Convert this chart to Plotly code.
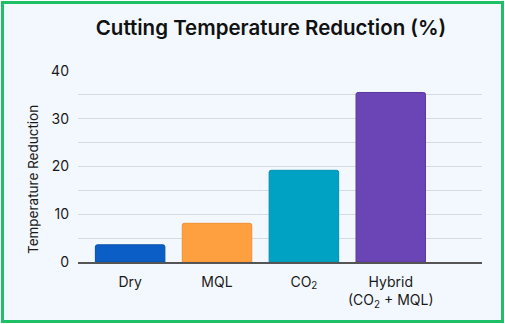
import plotly.graph_objects as go

categories = ["Dry", "MQL", "CO<sub>2</sub>", "Hybrid<br>(CO<sub>2</sub> + MQL)"]
values = [3.6, 8.1, 19.2, 35.5]
colors = ["#0A5EC6", "#FFA040", "#00A2C4", "#6B45B6"]
line_colors = ["#0A4FA8", "#F09030", "#0090B0", "#5A38A0"]
y_ticks = [0, 10, 20, 30, 40]

W, H = 505, 324
L, R, T, B = 78, 23, 71, 62
pw, ph = W - L - R, H - T - B

def px_x(x):
    return (x - L) / pw

def px_y(y):
    return (H - B - y) / ph

fig = go.Figure()
fig.add_trace(go.Bar(
    x=list(range(len(categories))), y=values,
    marker=dict(color=colors, line=dict(color=line_colors, width=1), cornerradius=2),
    width=0.8, hoverinfo="skip",
))

fig.add_shape(type="rect", xref="paper", yref="paper",
              x0=px_x(2.5), x1=px_x(502.5), y0=px_y(321.5), y1=px_y(2.5),
              fillcolor="#F2F8FD", line=dict(color="#1DBF67", width=3), layer="below")

fig.update_layout(
    width=W, height=H,
    margin=dict(l=L, r=R, t=T, b=B, pad=0),
    paper_bgcolor="white", plot_bgcolor="rgba(0,0,0,0)",
    showlegend=False,
    font=dict(family="Inter, Roboto, sans-serif", color="#1a1a1a"),
    title=dict(text="Cutting Temperature Reduction (%)", x=px_x(271), xref="paper",
               xanchor="center", y=1 - 28 / H, yanchor="middle",
               font=dict(size=20.5, color="#111111", family="Inter, Roboto, sans-serif", weight=600)),
    bargap=0.2,
)
fig.update_xaxes(
    range=[-0.6, 4.05], tickmode="array", tickvals=list(range(len(categories))),
    ticktext=categories, showgrid=False, zeroline=False,
    showline=True, linecolor="#555555", linewidth=1.5,
    tickfont=dict(size=14, color="#1a1a1a"), ticks="", ticklabelstandoff=6,
)
fig.update_yaxes(
    range=[0, 40], tickvals=y_ticks, showgrid=True, gridcolor="#D3DBE3", gridwidth=1,
    minor=dict(dtick=5, showgrid=True, gridcolor="#D3DBE3", gridwidth=1),
    zeroline=False, showline=False, ticks="",
    tickfont=dict(size=14, color="#1a1a1a"), ticklabelstandoff=8,
)
fig.add_annotation(text="Temperature Reduction", xref="paper", yref="paper",
                   x=px_x(33), y=px_y(180), textangle=-90, showarrow=False,
                   font=dict(size=13.5, color="#1a1a1a"), xanchor="center", yanchor="middle")

fig.write_html("out.html", config={"displayModeBar": False},
               post_script="document.body.style.margin='0';document.body.style.overflow='hidden';")
